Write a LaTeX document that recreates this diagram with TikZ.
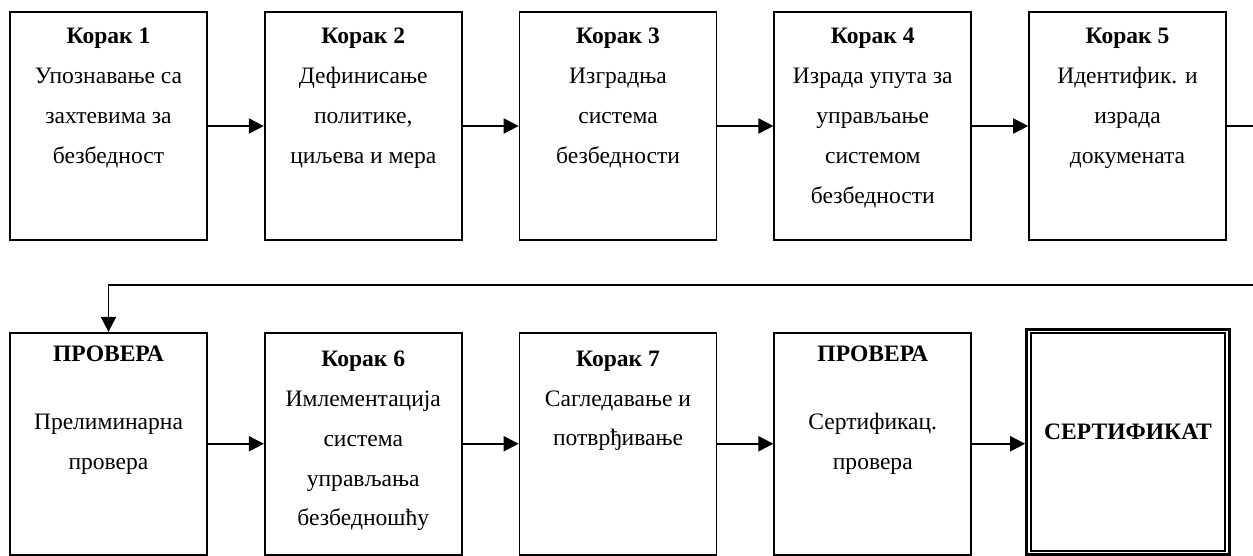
\documentclass[tikz,border=0pt]{standalone}
\usepackage{fontspec}
\setmainfont{Liberation Serif}
\usetikzlibrary{arrows.meta,positioning}

\begin{document}
\begin{tikzpicture}[
    node distance=1.12cm,
    box/.style={rectangle, draw=black, line width=1pt, minimum width=3.94cm, minimum height=4.56cm, inner sep=0pt},
    lowbox/.style={box, minimum height=4.44cm},
    certbox/.style={box, line width=1.6pt, minimum width=4.06cm, minimum height=4.5cm},
    txt/.style={align=center, inner sep=0pt, font=\fontsize{13.4pt}{22.7pt}\selectfont},
    flow/.style={-{Triangle[length=3mm, width=3mm]}, line width=1.1pt},
]
    \useasboundingbox (0,0) rectangle (25.06,11.1);
    % first row
    \node[box] (k1) at (2.17,8.58) {};
    \node[box, right=of k1] (k2) {};
    \node[box, right=of k2] (k3) {};
    \node[box, right=of k3] (k4) {};
    \node[box, right=of k4] (k5) {};
    % second row
    \node[lowbox, below=1.82cm of k1] (p1) {};
    \node[lowbox, right=of p1] (k6) {};
    \node[lowbox, right=of k6] (k7) {};
    \node[lowbox, right=of k7] (p2) {};
    \node[certbox, right=1.06cm of p2, yshift=0.04cm] (cert) {};
    \draw[line width=1.1pt] ([xshift=0.12cm,yshift=-0.1cm]cert.north west) rectangle ([xshift=-0.12cm,yshift=0.1cm]cert.south east);
    \coordinate (ret) at (25.14,5.4);

    % texts
    \node[txt, below=0.33cm of k1.north] (k1t) {\textbf{Корак 1}\\Упознавање са\\захтевима за\\безбедност};
    \node[txt, below=0.33cm of k2.north] (k2t) {\textbf{Корак 2}\\Дефинисање\\политике,\\циљева и мера};
    \node[txt, below=0.33cm of k3.north] (k3t) {\textbf{Корак 3}\\Изградња\\система\\безбедности};
    \node[txt, below=0.33cm of k4.north] (k4t) {\textbf{Корак 4}\\Израда упута за\\управљање\\системом\\безбедности};
    \node[txt, below=0.33cm of k5.north] (k5t) {\textbf{Корак 5}\\Идентифик. и\\израда\\докумената};
    \node[txt, below=0.28cm of p1.north] (p1t) {\textbf{ПРОВЕРА}\\[0.56cm]Прелиминарна\\провера};
    \node[txt, below=0.37cm of k6.north] (k6t) {\textbf{Корак 6}\\Имлементација\\система\\управљања\\безбедношћу};
    \node[txt, below=0.37cm of k7.north] (k7t) {\textbf{Корак 7}\\Сагледавање и\\потврђивање};
    \node[txt, below=0.28cm of p2.north] (p2t) {\textbf{ПРОВЕРА}\\[0.56cm]Сертификац.\\провера};
    \node[txt, yshift=0.2cm] (certt) at (cert.center) {\textbf{СЕРТИФИКАТ}};

    % connectors
    \draw[flow] (k1) -- (k2);
    \draw[flow] (k2) -- (k3);
    \draw[flow] (k3) -- (k4);
    \draw[flow] (k4) -- (k5);
    \draw[flow] (k5.east) -| (ret) -| (p1.north);
    \draw[flow] (p1) -- (k6);
    \draw[flow] (k6) -- (k7);
    \draw[flow] (k7) -- (p2);
    \draw[flow] (p2.east) -- (p2.east -| cert.west);
\end{tikzpicture}
\end{document}
